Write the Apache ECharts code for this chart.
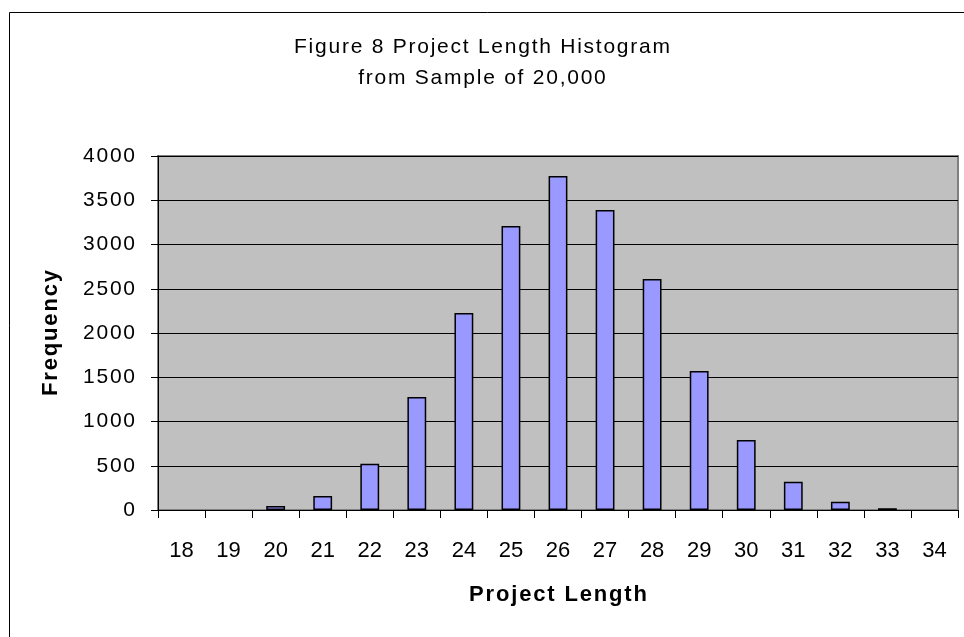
<!DOCTYPE html>
<html>
<head>
<meta charset="utf-8">
<script src="https://cdn.jsdelivr.net/npm/echarts@6/dist/echarts.min.js"></script>
<style>
  html, body { margin: 0; padding: 0; background: #fff; }
  #chart { width: 964px; height: 637px; }
</style>
</head>
<body>
<div id="chart"></div>
<script>
// project length categories and frequencies
const lengths = ['18', '19', '20', '21', '22', '23', '24', '25', '26', '27', '28', '29', '30', '31', '32', '33', '34'];
const frequency = [0, 0, 45, 158, 523, 1277, 2226, 3209, 3774, 3390, 2610, 1571, 791, 320, 94, 20, 0];

const titleLines = ['Figure 8 Project Length Histogram', 'from Sample of 20,000'];

// spread letters a bit, like the old spreadsheet font
const spaced = (s, gap) => s.split('').join(gap || '\u200a');

const chart = echarts.init(document.getElementById('chart'));

const option = {
  backgroundColor: '#fff',
  animation: false,
  textStyle: { fontFamily: 'Liberation Sans, Arial, sans-serif', color: '#000' },
  title: {
    text: spaced(titleLines[0]) + '\n' + spaced(titleLines[1]),
    left: 477,
    top: 27,
    textAlign: 'center',
    textStyle: { fontSize: 21, fontWeight: 'normal', color: '#000', lineHeight: 31 }
  },
  graphic: [
    {
      type: 'rect',
      shape: { x: 9.5, y: 12.5, width: 1000, height: 1000 },
      style: { fill: null, stroke: '#000', lineWidth: 1 },
      silent: true
    }
  ],
  grid: {
    left: 158,
    right: 6,
    top: 156,
    bottom: 127,
    show: true,
    backgroundColor: '#c0c0c0',
    borderColor: '#808080',
    borderWidth: 2
  },
  xAxis: {
    type: 'category',
    data: lengths,
    name: spaced('Project Length'),
    nameLocation: 'middle',
    nameGap: 74,
    nameTextStyle: { fontSize: 22, fontWeight: 'bold', color: '#000' },
    axisLine: { show: true, lineStyle: { color: '#000', width: 1 } },
    axisTick: { show: true, alignWithLabel: false, length: 8, lineStyle: { color: '#000' } },
    axisLabel: { fontSize: 22, color: '#000', margin: 30 },
    splitLine: { show: false }
  },
  yAxis: {
    type: 'value',
    min: 0,
    max: 4000,
    interval: 500,
    name: spaced('Frequency'),
    nameLocation: 'middle',
    nameGap: 96,
    nameRotate: 90,
    nameTextStyle: { fontSize: 22, fontWeight: 'bold', color: '#000' },
    axisLine: { show: true, lineStyle: { color: '#000', width: 1 } },
    axisTick: { show: true, length: 7, lineStyle: { color: '#000' } },
    axisLabel: { fontSize: 21, color: '#000', margin: 23, formatter: (v) => spaced(String(v)) },
    splitLine: { show: true, lineStyle: { color: '#000', width: 1 } }
  },
  series: [
    {
      type: 'bar',
      // empty bins are left blank, as in the original
      data: frequency.map((v) => (v === 0 ? '-' : v)),
      barWidth: '40%',
      itemStyle: { color: '#9999ff', borderColor: '#000', borderWidth: 1.5 }
    }
  ]
};

chart.setOption(option);
</script>
</body>
</html>
